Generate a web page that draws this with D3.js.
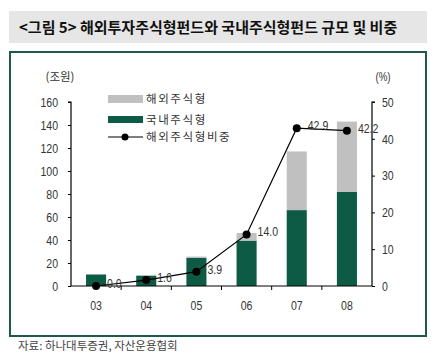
<!DOCTYPE html>
<html><head><meta charset="utf-8">
<script src="https://cdn.jsdelivr.net/npm/d3@7"></script>
<style>
body{margin:0;background:#fff;}
text{font-family:"Liberation Sans",Arial,sans-serif;}
.kr{font-family:"Noto Sans CJK KR","Noto Sans",sans-serif;}
</style></head>
<body><svg id="c" width="440" height="360"></svg>
<script>
const categories = ["03","04","05","06","07","08"];
const domestic = [10, 9, 24.6, 39.5, 66, 82];
const overseas = [0, 0.15, 1, 6.6, 51, 61];
const ratio = [0.0, 1.6, 3.9, 14.0, 42.9, 42.2];
const leftTicks = [0,20,40,60,80,100,120,140,160];
const rightTicks = [0,10,20,30,40,50];

const svg = d3.select("#c");
const GREY = "#c0c0c0", GREEN = "#0d5b45", BORDER = "#1d5a49";

// title band
svg.append("rect").attr("x",9).attr("y",11).attr("width",418).attr("height",32).attr("fill","#e6e6e6");
svg.append("text").attr("class","kr").attr("x",19).attr("y",33).attr("font-size",15).attr("font-weight","bold")
  .attr("fill","#111").text("<그림 5> 해외투자주식형펀드와 국내주식형펀드 규모 및 비중");
// panel border
svg.append("rect").attr("x",10).attr("y",52).attr("width",416).attr("height",284)
  .attr("fill","none").attr("stroke",BORDER).attr("stroke-width",2);
svg.append("text").attr("class","kr").attr("x",18).attr("y",350).attr("font-size",11.5).attr("fill","#444")
  .text("자료: 하나대투증권, 자산운용협회");

const x0 = 71, x1 = 372, yTop = 102, yBot = 286;
const x = d3.scaleBand().domain(categories).range([x0,x1]).paddingInner(0.6).paddingOuter(0.3);
const xb = d3.scaleBand().domain(categories).range([x0,x1]);
const yL = d3.scaleLinear().domain([0,160]).range([yBot,yTop]);
const yR = d3.scaleLinear().domain([0,50]).range([yBot,yTop]);

// bars
const g = svg.append("g");
g.selectAll(".d").data(categories).join("rect")
  .attr("x",d=>x(d)).attr("width",x.bandwidth())
  .attr("y",(d,i)=>yL(domestic[i])).attr("height",(d,i)=>yL(0)-yL(domestic[i])).attr("fill",GREEN);
g.selectAll(".o").data(categories).join("rect")
  .attr("x",d=>x(d)).attr("width",x.bandwidth())
  .attr("y",(d,i)=>yL(domestic[i]+overseas[i])).attr("height",(d,i)=>yL(domestic[i])-yL(domestic[i]+overseas[i])).attr("fill",GREY);

// axes
const axL = svg.append("g").attr("transform",`translate(${x0},0)`)
  .call(d3.axisLeft(yL).tickValues(leftTicks).tickSize(3).tickPadding(10));
const axR = svg.append("g").attr("transform",`translate(${x1},0)`)
  .call(d3.axisRight(yR).tickValues(rightTicks).tickSize(3).tickPadding(7));
const axB = svg.append("g").attr("transform",`translate(0,${yBot})`)
  .call(d3.axisBottom(xb).tickSize(0).tickPadding(14));
svg.append("g").selectAll("line").data(categories.slice(1)).join("line")
  .attr("x1",d=>xb(d)).attr("x2",d=>xb(d)).attr("y1",yBot).attr("y2",yBot+4).attr("stroke","#000");
[axL,axR,axB].forEach(a=>{
  a.select(".domain").attr("stroke","#000").attr("stroke-width",1.2);
  a.selectAll("line").attr("stroke","#000");
  a.selectAll("text").attr("font-size",13.5).attr("fill","#333").attr("font-family",null).classed("nar",true);
});
axL.select(".domain").attr("d",`M-3,${yTop}H0V${yBot}`);
axR.select(".domain").attr("d",`M3,${yTop}H0V${yBot}`);
axB.select(".domain").attr("d",`M${x0},0H${x1}`);

svg.append("text").attr("class","kr").attr("x",60).attr("y",81).attr("text-anchor","middle")
  .attr("font-size",11.5).attr("fill","#333").text("(조원)");
svg.append("text").attr("class","nar").attr("x",383).attr("y",81).attr("text-anchor","middle")
  .attr("font-size",12.5).attr("fill","#333").text("(%)");

// line
const cx = d=>xb(d)+xb.bandwidth()/2;
const line = d3.line().x((d,i)=>cx(categories[i])).y(d=>yR(d));
svg.append("path").datum(ratio).attr("d",line).attr("fill","none").attr("stroke","#000").attr("stroke-width",1.2);
svg.selectAll(".pt").data(ratio).join("circle").attr("cx",(d,i)=>cx(categories[i])).attr("cy",d=>yR(d))
  .attr("r",4).attr("fill","#000");
svg.selectAll(".lb").data(ratio).join("text").attr("class","nar")
  .attr("x",(d,i)=>cx(categories[i])+11).attr("y",d=>yR(d)+2)
  .attr("font-size",13.5).attr("fill","#333").text(d=>d.toFixed(1));

// legend
const lg = svg.append("g");
lg.append("rect").attr("x",108).attr("y",95).attr("width",35).attr("height",8).attr("fill",GREY);
lg.append("rect").attr("x",108).attr("y",116).attr("width",35).attr("height",7).attr("fill",GREEN);
lg.append("line").attr("x1",108).attr("x2",143).attr("y1",137).attr("y2",137).attr("stroke","#000").attr("stroke-width",1.2);
lg.append("circle").attr("cx",125).attr("cy",137).attr("r",3.5).attr("fill","#000");
const legTxt = ["해외주식형","국내주식형","해외주식형비중"];
const legY = [103,124,141];
legTxt.forEach((t,i)=>lg.append("text").attr("class","kr").attr("x",146).attr("y",legY[i])
  .attr("font-size",11.5).attr("letter-spacing",1.6).attr("fill","#333").text(t));

// narrow the numeric text like the reference's condensed face
svg.selectAll("text.nar").each(function(){
  const w = this.getComputedTextLength();
  d3.select(this).attr("textLength", w*0.78).attr("lengthAdjust","spacingAndGlyphs");
});
</script></body></html>
